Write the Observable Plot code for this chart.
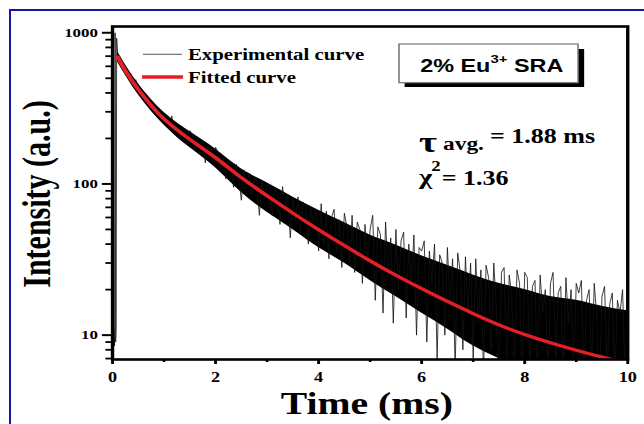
<!DOCTYPE html>
<html><head><meta charset="utf-8">
<script src="https://cdn.jsdelivr.net/npm/d3@7"></script>
<script src="https://cdn.jsdelivr.net/npm/@observablehq/plot@0.6"></script>
<style>
html,body{margin:0;padding:0;background:#fff;overflow:hidden;}
#wrap{position:relative;width:644px;height:424px;overflow:hidden;background:#fff;}
#border{position:absolute;left:9px;top:9px;width:900px;height:900px;border-left:2.5px solid #1616a2;border-top:2.5px solid #1616a2;pointer-events:none;}
</style></head><body>
<div id="wrap"><div id="chart"></div><div id="border"></div></div>
<script>
// ---- data ----
// fitted decay curve (ms, a.u.)
const fitTime = [0.1,0.25,0.5,0.75,1,1.5,2,2.5,3,3.5,4,4.5,5,5.5,6,6.5,7,7.5,8,8.5,9,9.5,10];
const fitIntensity = [690,561,421,330,269,197,149,110,83.6,64.1,49.8,39.1,31.0,24.9,20.3,16.7,13.9,11.7,10.1,8.9,7.94,7.16,6.49];

// dense core of the experimental trace (lower / upper edge of the solid black band)
const coreTime = [0.1,0.5,1,1.5,2,2.5,3,3.5,4,4.5,5,5.5,6,6.5,7,7.5,8,8.5,9,9.5,10];
const coreLow  = [640,390,245,174,128,88,65,50,38,30,23,18,14,11,8.5,7,6,5.5,5,5,5];
const coreHigh = [750,462,298,222,170,126,102,82,67,55.5,46,39.5,33.5,29,25,22,20,18,17,15.5,14.5];

// experimental trace: excitation pulse, then decay sampled every 0.05 ms from 0.15 ms
const pulseTime = [0,0.02,0.04,0.05,0.06,0.07,0.08,0.1];
const pulseIntensity = [8,12,8.5,1000,9,11,920,730];
const decayStart = 0.15, decayStep = 0.05;
const decayIntensity = [
 690,625,600,500,540,470,490,440,380,410,355,372,315,342,296,310,262,290,
 275,240,282,225,250,198,240,228,188,225,212,165,200,180,195,138,178,170,148,175,
 160,128,150,108,142,130,95,135,112,78,124,98,118,84,112,104,62,106,80,98,
 98,62,92,88,54,96,70,85,44,80,58,82,48,76,72,40,70,55,68,36,
 74,40,66,32,60,68,36,58,28,64,52,30,62,26,56,50,22,54,30,50,
 62,17,52,46,14,56,24,44,12,50,20,42,48,13,40,22,46,10,38,36,
 42,9,36,22,40,7,34,30,10,38,16,32,6,35,26,8,33,14,30,7,
 32,12,27,5.5,29,24,8,30,15,5,26,28,6.5,25,18,5,27,22,4.5,26,
 24,6,21,23,4.5,25,14,20,5,22,26,7,19,21,4.5,24,12,20,5,22,
 19,23,5,17,20,6,22,13,4.5,18,21,6,16,19,5,17,14,20,5,16
];

const xMajor = [0,2,4,6,8,10];
const xMinor = [1,3,5,7,9];
const yMajor = [10,100,1000];
const yMinor = [7,8,9,20,30,40,50,60,70,80,90,200,300,400,500,600,700,800,900];

// ---- build ----
const W = 495, H = 424;
const decayTime = decayIntensity.map((_, i) => +(decayStart + i * decayStep).toFixed(2));
const expTime = pulseTime.concat(decayTime);
const expIntensity = pulseIntensity.concat(decayIntensity);
const exp = expTime.map((t, i) => ({t, v: expIntensity[i]}));
const fit = fitTime.map((t, i) => ({t, v: fitIntensity[i]}));
const core = coreTime.map((t, i) => ({t, lo: coreLow[i], hi: coreHigh[i]}));

const plot = Plot.plot({
  width: W, height: H,
  marginLeft: 86, marginRight: 13, marginTop: 26, marginBottom: 65,
  x: {domain: [0, 10]},
  y: {type: "log", domain: [6.9, 1100]},
  style: {fontFamily: "Liberation Serif", fontWeight: "bold", background: "white", color: "black"},
  marks: [
    Plot.areaY(core, {x: "t", y1: "lo", y2: "hi", fill: "black", curve: "natural", clip: true}),
    Plot.line(exp, {x: "t", y: "v", stroke: "#111", strokeWidth: 0.7, clip: true}),
    Plot.line(fit, {x: "t", y: "v", stroke: "#e41f26", strokeWidth: 3.2, curve: "natural", clip: true}),
    Plot.frame({stroke: "black", strokeWidth: 2.6}),
    Plot.axisY(yMajor, {tickSize: 7.7, tickPadding: 3.5, tickFormat: d => String(d), fontSize: 13, strokeWidth: 2, label: null}),
    Plot.axisY(yMinor, {tickSize: 5, tickFormat: () => "", strokeWidth: 1.8, label: null}),
    Plot.axisX(xMajor, {tickSize: 5, tickPadding: 8, tickFormat: d => String(d), fontSize: 14, strokeWidth: 2.2, label: null}),
    Plot.axisX(xMinor, {tickSize: 3, tickFormat: () => "", strokeWidth: 2, label: null})
  ]
});

// the reference is horizontally stretched: draw in a narrower box and stretch it to 644 px
plot.setAttribute("width", 644);
plot.setAttribute("height", 424);
plot.setAttribute("preserveAspectRatio", "none");
plot.style.width = "644px";
plot.style.height = "424px";
plot.style.maxWidth = "none";

const svg = d3.select(plot);
const g = svg.append("g").attr("font-family", "Liberation Serif").attr("font-weight", "bold")
  .attr("fill", "black").attr("text-anchor", "start");

// axis titles
g.append("text").attr("x", 282).attr("y", 414).attr("text-anchor", "middle").attr("font-size", 30.5).text("Time (ms)");
g.append("text").attr("transform", "translate(38.4,194) rotate(-90)").attr("text-anchor", "middle").attr("font-size", 30).text("Intensity (a.u.)");

// legend
g.append("line").attr("x1", 109.9).attr("x2", 139.9).attr("y1", 54.3).attr("y2", 54.3).attr("stroke", "#555").attr("stroke-width", 1);
g.append("line").attr("x1", 109.1).attr("x2", 140.7).attr("y1", 77).attr("y2", 77).attr("stroke", "#e41f26").attr("stroke-width", 3.3);
g.append("text").attr("x", 144.5).attr("y", 60).attr("font-size", 16).text("Experimental curve");
g.append("text").attr("x", 144.5).attr("y", 83).attr("font-size", 16).text("Fitted curve");

// sample box
g.append("rect").attr("x", 311).attr("y", 49).attr("width", 138).attr("height", 38).attr("fill", "black");
g.append("rect").attr("x", 306.7).attr("y", 44).attr("width", 137.6).attr("height", 38.7).attr("fill", "white").attr("stroke", "#777").attr("stroke-width", 1.2);
const bt = g.append("text").attr("x", 378).attr("y", 72.3).attr("text-anchor", "middle")
  .attr("font-family", "Liberation Sans").attr("font-size", 18);
bt.append("tspan").text("2% Eu");
bt.append("tspan").attr("font-size", 11.5).attr("dy", -9).text("3+");
bt.append("tspan").attr("dy", 9).text(" SRA");

// fit results
g.append("text").attr("x", 322).attr("y", 152).attr("font-size", 30).text("τ");
g.append("text").attr("x", 340.5).attr("y", 150).attr("font-size", 18).text("avg.");
g.append("text").attr("x", 376.6).attr("y", 142.7).attr("font-size", 20).text("= 1.88 ms");
g.append("text").attr("x", 322).attr("y", 184).attr("font-size", 22).text("χ");
g.append("text").attr("x", 331.5).attr("y", 171).attr("font-size", 14.5).text("2");
g.append("text").attr("x", 339.5).attr("y", 185).attr("font-size", 20).text("= 1.36");

document.getElementById("chart").appendChild(plot);
</script></body></html>
